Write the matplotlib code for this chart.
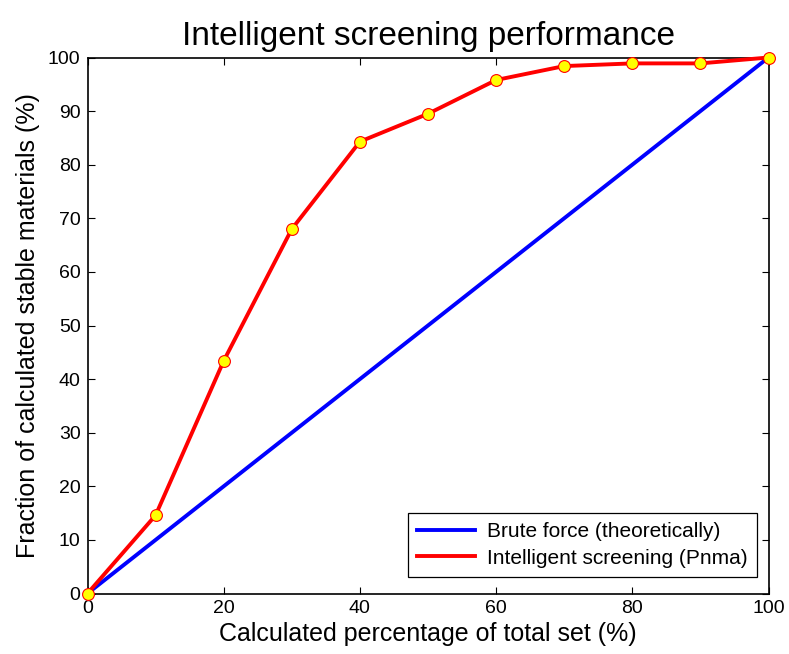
import matplotlib
matplotlib.use("Agg")
import matplotlib.pyplot as plt

plt.rcParams['font.family'] = ['Liberation Sans', 'DejaVu Sans']

# Percentage of the total set that has been calculated
calc_pct = [0, 10, 20, 30, 40, 50, 60, 70, 80, 90, 100]
# Fraction of stable materials found by intelligent screening (Pnma)
smart_found = [0, 14.6, 43.4, 68.0, 84.3, 89.5, 95.8, 98.4, 98.9, 98.9, 100]
# Brute-force baseline (linear)
brute_x = [0, 100]
brute_y = [0, 100]

x_ticks = [0, 20, 40, 60, 80, 100]
y_ticks = [0, 10, 20, 30, 40, 50, 60, 70, 80, 90, 100]

fig = plt.figure(figsize=(7.89, 6.54), dpi=100)
ax = fig.add_axes([87.5 / 789, 1 - 593.5 / 654, 681 / 789, 536 / 654])

ax.plot(brute_x, brute_y, color='#0000ff', lw=2.8, label='Brute force (theoretically)')
ax.plot(calc_pct, smart_found, color='#ff0000', lw=2.8,
        marker='o', markersize=8.5, markerfacecolor='#ffff00',
        markeredgecolor='#ff0000', markeredgewidth=0.8,
        label='Intelligent screening (Pnma)', clip_on=False, zorder=3)

ax.set_xlim(0, 100)
ax.set_ylim(0, 100)
ax.set_xticks(x_ticks)
ax.set_yticks(y_ticks)
ax.tick_params(direction='in', top=True, right=True, length=5, width=0.8,
               labelsize=14, pad=5)
for s in ax.spines.values():
    s.set_linewidth(1.2)

ax.set_xlabel('Calculated percentage of total set (%)', fontsize=18, labelpad=3)
ax.set_ylabel('Fraction of calculated stable materials (%)', fontsize=18, labelpad=6)
ax.set_title('Intelligent screening performance', fontsize=24, pad=9)

leg = ax.legend(loc='lower right', bbox_to_anchor=(0.983, 0.031), borderaxespad=0,
                fontsize=15, fancybox=False, framealpha=1,
                edgecolor='black', handlelength=2.8,
                labelspacing=0.35, handletextpad=0.55, borderpad=0.45)
leg.get_frame().set_linewidth(0.9)
for h in leg.get_lines():
    h.set_marker('')

fig.savefig('out.png', dpi=100)
